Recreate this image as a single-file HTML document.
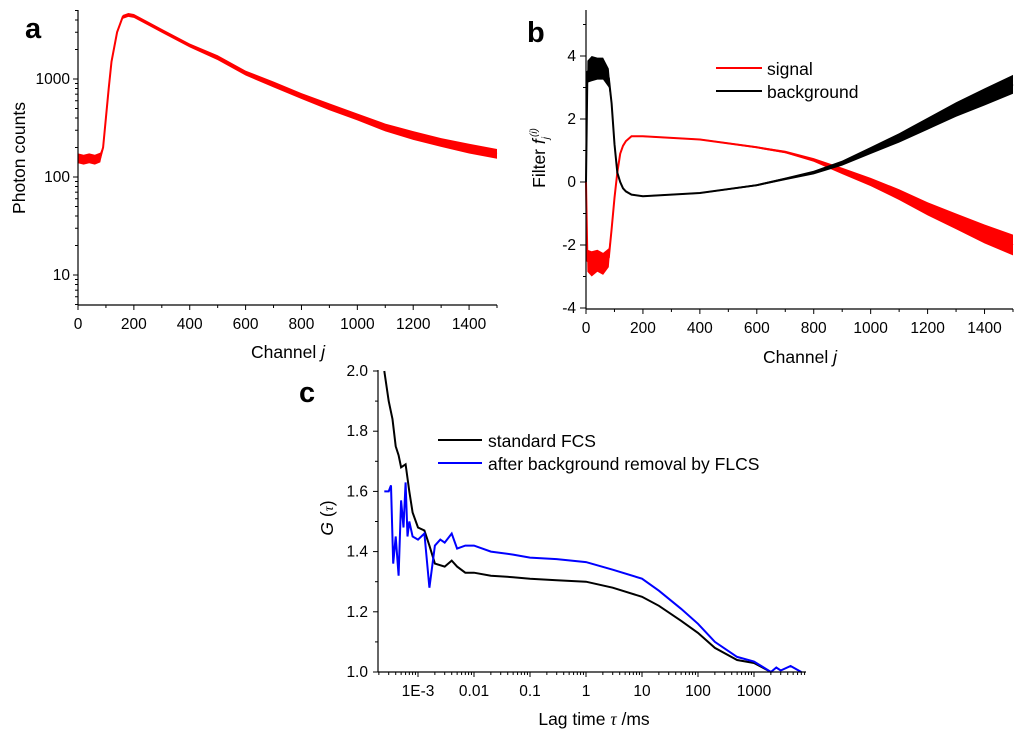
<!DOCTYPE html>
<html><head><meta charset="utf-8"><style>
body{margin:0;background:#fff;}
svg{display:block;font-family:"Liberation Sans",Arial,sans-serif;}
</style></head><body>
<svg id="fig" width="1024" height="736" viewBox="0 0 1024 736">
<g id="pa"></g>
<g id="pb"></g>
<g id="pc"></g>
</svg>
<script>
// Panel a data
const aChannels=[0,20,40,60,80,90,100,110,120,140,160,180,200,250,300,400,500,600,700,800,900,1000,1100,1200,1300,1400,1500];
const aCounts=[155,150,155,150,158,200,400,800,1500,3000,4300,4500,4400,3700,3100,2200,1650,1150,880,670,520,410,320,265,225,195,172];
const aNoise=[0.05,0.05,0.05,0.05,0.05,0.02,0.02,0.02,0.02,0.02,0.02,0.02,0.02,0.02,0.02,0.02,0.025,0.025,0.03,0.03,0.035,0.035,0.04,0.045,0.045,0.05,0.05];
const aYTicks=[10,100,1000];
const xTicksLin=[0,200,400,600,800,1000,1200,1400];
// Panel b data
const bChannels=[0,5,20,40,60,80,90,100,110,120,130,140,160,200,400,600,700,800,900,1000,1100,1200,1300,1400,1500];
const bSignal=[0,-2.5,-2.6,-2.5,-2.6,-2.4,-1.5,-0.5,0.3,0.9,1.15,1.3,1.45,1.45,1.35,1.1,0.95,0.7,0.35,0,-0.4,-0.85,-1.25,-1.65,-2.0];
const bBackground=[0,3.5,3.6,3.6,3.6,3.3,2.5,1.2,0.3,0,-0.2,-0.3,-0.4,-0.45,-0.35,-0.1,0.1,0.3,0.6,1.0,1.4,1.85,2.3,2.7,3.1];
const bSigNoise=[0,0.35,0.4,0.35,0.35,0.3,0.1,0.05,0.03,0.02,0.02,0.02,0.02,0.02,0.02,0.03,0.04,0.06,0.1,0.13,0.17,0.21,0.25,0.3,0.33];
const bBgNoise=[0,0.35,0.4,0.35,0.35,0.3,0.1,0.05,0.03,0.02,0.02,0.02,0.02,0.02,0.02,0.03,0.04,0.06,0.08,0.11,0.15,0.19,0.23,0.27,0.3];
const bYTicks=[-4,-2,0,2,4];
// Panel c data
const cTauStd=[2.5e-4,3e-4,3.5e-4,4e-4,4.5e-4,5e-4,6e-4,7e-4,8e-4,1e-3,1.3e-3,1.6e-3,2e-3,3e-3,4e-3,5e-3,7e-3,0.01,0.02,0.05,0.1,0.3,1,3,10,20,50,100,200,500,1000,2000];
const cStd=[2.0,1.9,1.84,1.75,1.72,1.68,1.69,1.6,1.53,1.48,1.47,1.42,1.36,1.35,1.37,1.35,1.33,1.33,1.32,1.315,1.31,1.305,1.30,1.28,1.25,1.22,1.17,1.13,1.08,1.04,1.03,1.0];
const cTauFlcs=[2.5e-4,3e-4,3.3e-4,3.6e-4,4e-4,4.5e-4,5e-4,5.5e-4,6e-4,6.5e-4,7e-4,8e-4,1e-3,1.3e-3,1.6e-3,2e-3,2.5e-3,3e-3,4e-3,5e-3,7e-3,0.01,0.02,0.05,0.1,0.3,1,3,10,20,50,100,200,500,1000,2000,2500,3000,4500,7000];
const cFlcs=[1.6,1.6,1.62,1.36,1.45,1.32,1.57,1.48,1.63,1.45,1.5,1.45,1.44,1.46,1.28,1.42,1.44,1.43,1.46,1.41,1.42,1.42,1.40,1.39,1.38,1.375,1.365,1.34,1.31,1.27,1.21,1.16,1.10,1.05,1.035,1.0,1.015,1.005,1.02,1.0];
const cXTicks=[1e-3,0.01,0.1,1,10,100,1000];
const cXLabels=["1E-3","0.01","0.1","1","10","100","1000"];
const cYTicks=[1.0,1.2,1.4,1.6,1.8,2.0];

const NS="http://www.w3.org/2000/svg";
function mk(parent,tag,attrs,text){const e=document.createElementNS(NS,tag);for(const k in attrs)e.setAttribute(k,attrs[k]);if(text!==undefined)e.textContent=text;parent.appendChild(e);return e;}
function pathOf(xs,ys,fx,fy){return xs.map((x,i)=>(i?'L':'M')+fx(x).toFixed(1)+','+fy(ys[i]).toFixed(1)).join('');}
function bandOf(xs,ys,ns,fx,fy,logy){let up=[],dn=[];xs.forEach((x,i)=>{const a=logy?ys[i]*Math.pow(10,ns[i]):ys[i]+ns[i];const b=logy?ys[i]/Math.pow(10,ns[i]):ys[i]-ns[i];up.push(fx(x).toFixed(1)+','+fy(a).toFixed(1));dn.unshift(fx(x).toFixed(1)+','+fy(b).toFixed(1));});return 'M'+up.join('L')+'L'+dn.join('L')+'Z';}
const TF=15.5, AF=17.5;

// ===== Panel a =====
const pa=document.getElementById('pa');
const ax=v=>78+(v/1500)*(497-78);
const ay=v=>79-(Math.log10(v)-3)*98;
let el;
el=mk(pa,'path',{d:bandOf(aChannels,aCounts,aNoise,ax,ay,true),fill:'#f00',stroke:'none'});

el=mk(pa,'path',{d:pathOf(aChannels,aCounts,ax,ay),fill:'none',stroke:'#f00','stroke-width':2});

mk(pa,'line',{x1:78,y1:10,x2:78,y2:305,stroke:'#000','stroke-width':1.2});
mk(pa,'line',{x1:78,y1:305,x2:497,y2:305,stroke:'#000','stroke-width':1.2});
for(let d=0;d<4;d++)for(let m=1;m<10;m++){const v=Math.pow(10,d)*m;if(v<5||v>5000)continue;const y=ay(v);mk(pa,'line',{x1:78,y1:y,x2:m==1?73:75,y2:y,stroke:'#000'});}
aYTicks.forEach(v=>{el=mk(pa,'text',{x:70,y:ay(v)+5,'font-size':TF,'text-anchor':'end'},String(v));});
for(let v=0;v<=1500;v+=100){const x=ax(v);mk(pa,'line',{x1:x,y1:305,x2:x,y2:v%200==0?310:308,stroke:'#000'});}
xTicksLin.forEach(v=>{el=mk(pa,'text',{x:ax(v),y:329,'font-size':TF,'text-anchor':'middle'},String(v));});
el=mk(pa,'text',{x:288,y:358,'font-size':AF,'text-anchor':'middle'});el.innerHTML='Channel <tspan font-style="italic">j</tspan>';

el=mk(pa,'text',{x:0,y:0,'font-size':AF,'text-anchor':'middle',transform:'translate(25,158) rotate(-90)'},'Photon counts');

el=mk(pa,'text',{x:25,y:38,'font-size':29,'font-weight':'bold'},'a');


// ===== Panel b =====
const pb=document.getElementById('pb');
const bx=v=>586+(v/1500)*(1013-586);
const by=v=>182-v*31.5;
el=mk(pb,'path',{d:bandOf(bChannels,bSignal,bSigNoise,bx,by,false),fill:'#f00'});

el=mk(pb,'path',{d:pathOf(bChannels,bSignal,bx,by),fill:'none',stroke:'#f00','stroke-width':2});

el=mk(pb,'path',{d:bandOf(bChannels,bBackground,bBgNoise,bx,by,false),fill:'#000'});

el=mk(pb,'path',{d:pathOf(bChannels,bBackground,bx,by),fill:'none',stroke:'#000','stroke-width':2});

mk(pb,'line',{x1:586,y1:10,x2:586,y2:309,stroke:'#000','stroke-width':1.2});
mk(pb,'line',{x1:586,y1:309,x2:1013,y2:309,stroke:'#000','stroke-width':1.2});
for(let v=-4;v<=5;v++){const y=by(v);mk(pb,'line',{x1:586,y1:y,x2:v%2==0?580:583,y2:y,stroke:'#000'});}
bYTicks.forEach(v=>{el=mk(pb,'text',{x:576,y:by(v)+5,'font-size':TF,'text-anchor':'end'},String(v));});
for(let v=0;v<=1500;v+=100){const x=bx(v);mk(pb,'line',{x1:x,y1:309,x2:x,y2:v%200==0?314:312,stroke:'#000'});}
xTicksLin.forEach(v=>{el=mk(pb,'text',{x:bx(v),y:333,'font-size':TF,'text-anchor':'middle'},String(v));});
el=mk(pb,'text',{x:800,y:363,'font-size':AF,'text-anchor':'middle'});el.innerHTML='Channel <tspan font-style="italic">j</tspan>';

el=mk(pb,'text',{x:0,y:0,'font-size':AF,'text-anchor':'middle',transform:'translate(545,158) rotate(-90)'});
el.innerHTML='Filter <tspan font-style="italic">f</tspan><tspan font-size="10" font-style="italic" dy="4">j</tspan><tspan font-size="10" font-style="italic" dy="-12">(i)</tspan>';

el=mk(pb,'text',{x:527,y:42,'font-size':29,'font-weight':'bold'},'b');

const lgB=mk(pb,'g',{});
mk(lgB,'line',{x1:716,y1:68,x2:762,y2:68,stroke:'#f00','stroke-width':2});
mk(lgB,'text',{x:767,y:75,'font-size':AF},'signal');
mk(lgB,'line',{x1:716,y1:91,x2:762,y2:91,stroke:'#000','stroke-width':2});
mk(lgB,'text',{x:767,y:98,'font-size':AF},'background');

// ===== Panel c =====
const pc=document.getElementById('pc');
const cx=v=>586+Math.log10(v)*56;
const cy=v=>672-(v-1)*301;
el=mk(pc,'path',{d:pathOf(cTauStd,cStd,cx,cy),fill:'none',stroke:'#000','stroke-width':2});

el=mk(pc,'path',{d:pathOf(cTauFlcs,cFlcs,cx,cy),fill:'none',stroke:'#00f','stroke-width':2});

mk(pc,'line',{x1:378,y1:370,x2:378,y2:672,stroke:'#000','stroke-width':1.2});
mk(pc,'line',{x1:378,y1:672,x2:806,y2:672,stroke:'#000','stroke-width':1.2});
for(let v=1.0;v<=2.001;v+=0.1){const y=cy(v);const maj=Math.round(v*10)%2==0;mk(pc,'line',{x1:378,y1:y,x2:maj?373:375,y2:y,stroke:'#000'});}
cYTicks.forEach(v=>{el=mk(pc,'text',{x:368,y:cy(v)+5,'font-size':TF,'text-anchor':'end'},v.toFixed(1));});
for(let d=-4;d<=3;d++)for(let m=1;m<10;m++){const v=Math.pow(10,d)*m;const x=cx(v);if(x<378||x>806)continue;mk(pc,'line',{x1:x,y1:672,x2:x,y2:m==1?677:675,stroke:'#000'});}
cXTicks.forEach((v,i)=>{el=mk(pc,'text',{x:cx(v),y:696,'font-size':TF,'text-anchor':'middle'},cXLabels[i]);});
el=mk(pc,'text',{x:594,y:725,'font-size':AF,'text-anchor':'middle'});el.innerHTML='Lag time <tspan font-family="Liberation Serif" font-style="italic">τ</tspan> /ms';

el=mk(pc,'text',{x:0,y:0,'font-size':AF,'text-anchor':'middle',transform:'translate(333,518) rotate(-90)'});
el.innerHTML='<tspan font-style="italic">G</tspan> (<tspan font-family="Liberation Serif" font-style="italic" font-size="14">τ</tspan>)';

el=mk(pc,'text',{x:299,y:402,'font-size':29,'font-weight':'bold'},'c');

const lgC=mk(pc,'g',{});
mk(lgC,'line',{x1:438,y1:440,x2:482,y2:440,stroke:'#000','stroke-width':2});
mk(lgC,'text',{x:488,y:447,'font-size':AF},'standard FCS');
mk(lgC,'line',{x1:438,y1:463,x2:482,y2:463,stroke:'#00f','stroke-width':2});
mk(lgC,'text',{x:488,y:470,'font-size':AF},'after background removal by FLCS');
</script>
</body></html>
